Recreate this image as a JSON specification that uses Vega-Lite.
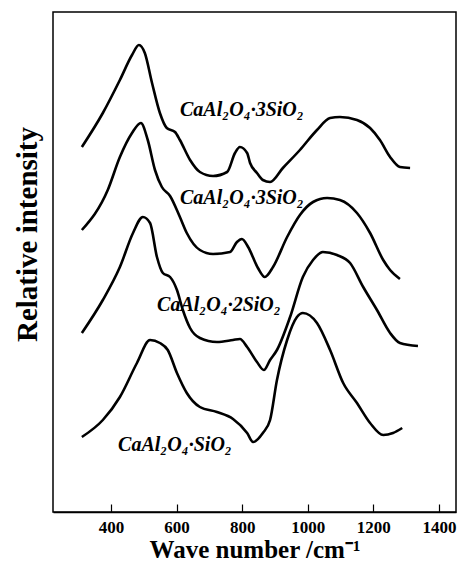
{
  "$schema": "https://vega.github.io/schema/vega-lite/v6.json",
  "width": 403,
  "height": 500,
  "autosize": {"type": "none"},
  "padding": {"left": 53, "top": 12, "right": 2, "bottom": 53},
  "background": "white",
  "config": {
    "view": {"stroke": "black", "strokeWidth": 1.5},
    "axis": {"grid": false}
  },
  "datasets": {
    "curves": [
      {"sample": "a", "wavenumber": 311, "intensity": 365},
      {"sample": "a", "wavenumber": 375, "intensity": 399},
      {"sample": "a", "wavenumber": 427, "intensity": 432},
      {"sample": "a", "wavenumber": 464, "intensity": 457},
      {"sample": "a", "wavenumber": 485, "intensity": 467},
      {"sample": "a", "wavenumber": 503, "intensity": 459},
      {"sample": "a", "wavenumber": 525, "intensity": 429},
      {"sample": "a", "wavenumber": 549, "intensity": 399},
      {"sample": "a", "wavenumber": 570, "intensity": 384},
      {"sample": "a", "wavenumber": 595, "intensity": 380},
      {"sample": "a", "wavenumber": 610, "intensity": 372},
      {"sample": "a", "wavenumber": 641, "intensity": 352},
      {"sample": "a", "wavenumber": 671, "intensity": 340},
      {"sample": "a", "wavenumber": 711, "intensity": 336},
      {"sample": "a", "wavenumber": 754, "intensity": 340},
      {"sample": "a", "wavenumber": 778, "intensity": 359},
      {"sample": "a", "wavenumber": 793, "intensity": 365},
      {"sample": "a", "wavenumber": 815, "intensity": 359},
      {"sample": "a", "wavenumber": 824, "intensity": 349},
      {"sample": "a", "wavenumber": 845, "intensity": 339},
      {"sample": "a", "wavenumber": 863, "intensity": 332},
      {"sample": "a", "wavenumber": 885, "intensity": 330},
      {"sample": "a", "wavenumber": 924, "intensity": 344},
      {"sample": "a", "wavenumber": 976, "intensity": 362},
      {"sample": "a", "wavenumber": 1028, "intensity": 382},
      {"sample": "a", "wavenumber": 1068, "intensity": 394},
      {"sample": "a", "wavenumber": 1098, "intensity": 395},
      {"sample": "a", "wavenumber": 1150, "intensity": 392},
      {"sample": "a", "wavenumber": 1190, "intensity": 384},
      {"sample": "a", "wavenumber": 1220, "intensity": 372},
      {"sample": "a", "wavenumber": 1251, "intensity": 355},
      {"sample": "a", "wavenumber": 1281, "intensity": 345},
      {"sample": "a", "wavenumber": 1312, "intensity": 344},

      {"sample": "b", "wavenumber": 311, "intensity": 282},
      {"sample": "b", "wavenumber": 390, "intensity": 322},
      {"sample": "b", "wavenumber": 427, "intensity": 355},
      {"sample": "b", "wavenumber": 464, "intensity": 379},
      {"sample": "b", "wavenumber": 491, "intensity": 389},
      {"sample": "b", "wavenumber": 512, "intensity": 372},
      {"sample": "b", "wavenumber": 534, "intensity": 342},
      {"sample": "b", "wavenumber": 555, "intensity": 325},
      {"sample": "b", "wavenumber": 580, "intensity": 316},
      {"sample": "b", "wavenumber": 610, "intensity": 295},
      {"sample": "b", "wavenumber": 631, "intensity": 279},
      {"sample": "b", "wavenumber": 671, "intensity": 262},
      {"sample": "b", "wavenumber": 711, "intensity": 258},
      {"sample": "b", "wavenumber": 763, "intensity": 260},
      {"sample": "b", "wavenumber": 784, "intensity": 270},
      {"sample": "b", "wavenumber": 799, "intensity": 273},
      {"sample": "b", "wavenumber": 818, "intensity": 265},
      {"sample": "b", "wavenumber": 848, "intensity": 244},
      {"sample": "b", "wavenumber": 869, "intensity": 235},
      {"sample": "b", "wavenumber": 894, "intensity": 245},
      {"sample": "b", "wavenumber": 937, "intensity": 275},
      {"sample": "b", "wavenumber": 976, "intensity": 297},
      {"sample": "b", "wavenumber": 1016, "intensity": 310},
      {"sample": "b", "wavenumber": 1059, "intensity": 314},
      {"sample": "b", "wavenumber": 1098, "intensity": 312},
      {"sample": "b", "wavenumber": 1150, "intensity": 299},
      {"sample": "b", "wavenumber": 1190, "intensity": 279},
      {"sample": "b", "wavenumber": 1230, "intensity": 252},
      {"sample": "b", "wavenumber": 1251, "intensity": 242},
      {"sample": "b", "wavenumber": 1281, "intensity": 233},

      {"sample": "c", "wavenumber": 311, "intensity": 179},
      {"sample": "c", "wavenumber": 375, "intensity": 212},
      {"sample": "c", "wavenumber": 427, "intensity": 245},
      {"sample": "c", "wavenumber": 467, "intensity": 279},
      {"sample": "c", "wavenumber": 497, "intensity": 295},
      {"sample": "c", "wavenumber": 519, "intensity": 289},
      {"sample": "c", "wavenumber": 540, "intensity": 255},
      {"sample": "c", "wavenumber": 558, "intensity": 239},
      {"sample": "c", "wavenumber": 580, "intensity": 235},
      {"sample": "c", "wavenumber": 601, "intensity": 222},
      {"sample": "c", "wavenumber": 619, "intensity": 202},
      {"sample": "c", "wavenumber": 641, "intensity": 184},
      {"sample": "c", "wavenumber": 671, "intensity": 174},
      {"sample": "c", "wavenumber": 723, "intensity": 170},
      {"sample": "c", "wavenumber": 772, "intensity": 172},
      {"sample": "c", "wavenumber": 793, "intensity": 173},
      {"sample": "c", "wavenumber": 815, "intensity": 165},
      {"sample": "c", "wavenumber": 845, "intensity": 150},
      {"sample": "c", "wavenumber": 866, "intensity": 142},
      {"sample": "c", "wavenumber": 885, "intensity": 152},
      {"sample": "c", "wavenumber": 906, "intensity": 162},
      {"sample": "c", "wavenumber": 946, "intensity": 195},
      {"sample": "c", "wavenumber": 985, "intensity": 235},
      {"sample": "c", "wavenumber": 1016, "intensity": 252},
      {"sample": "c", "wavenumber": 1046, "intensity": 260},
      {"sample": "c", "wavenumber": 1089, "intensity": 257},
      {"sample": "c", "wavenumber": 1129, "intensity": 249},
      {"sample": "c", "wavenumber": 1169, "intensity": 225},
      {"sample": "c", "wavenumber": 1211, "intensity": 202},
      {"sample": "c", "wavenumber": 1251, "intensity": 179},
      {"sample": "c", "wavenumber": 1281, "intensity": 169},
      {"sample": "c", "wavenumber": 1336, "intensity": 166},

      {"sample": "d", "wavenumber": 311, "intensity": 75},
      {"sample": "d", "wavenumber": 375, "intensity": 92},
      {"sample": "d", "wavenumber": 427, "intensity": 115},
      {"sample": "d", "wavenumber": 479, "intensity": 149},
      {"sample": "d", "wavenumber": 519, "intensity": 172},
      {"sample": "d", "wavenumber": 549, "intensity": 169},
      {"sample": "d", "wavenumber": 573, "intensity": 162},
      {"sample": "d", "wavenumber": 601, "intensity": 139},
      {"sample": "d", "wavenumber": 631, "intensity": 119},
      {"sample": "d", "wavenumber": 671, "intensity": 105},
      {"sample": "d", "wavenumber": 723, "intensity": 100},
      {"sample": "d", "wavenumber": 772, "intensity": 93},
      {"sample": "d", "wavenumber": 815, "intensity": 79},
      {"sample": "d", "wavenumber": 833, "intensity": 70},
      {"sample": "d", "wavenumber": 863, "intensity": 79},
      {"sample": "d", "wavenumber": 885, "intensity": 92},
      {"sample": "d", "wavenumber": 906, "intensity": 132},
      {"sample": "d", "wavenumber": 937, "intensity": 172},
      {"sample": "d", "wavenumber": 967, "intensity": 195},
      {"sample": "d", "wavenumber": 985, "intensity": 199},
      {"sample": "d", "wavenumber": 1028, "intensity": 189},
      {"sample": "d", "wavenumber": 1068, "intensity": 162},
      {"sample": "d", "wavenumber": 1108, "intensity": 129},
      {"sample": "d", "wavenumber": 1150, "intensity": 109},
      {"sample": "d", "wavenumber": 1190, "intensity": 89},
      {"sample": "d", "wavenumber": 1230, "intensity": 77},
      {"sample": "d", "wavenumber": 1260, "intensity": 79},
      {"sample": "d", "wavenumber": 1288, "intensity": 84}
    ],
    "labels": [
      {"label": "CaAl₂O₄·3SiO₂", "wavenumber": 799, "intensity": 402},
      {"label": "CaAl₂O₄·3SiO₂", "wavenumber": 799, "intensity": 314},
      {"label": "CaAl₂O₄·2SiO₂", "wavenumber": 729, "intensity": 207},
      {"label": "CaAl₂O₄·SiO₂", "wavenumber": 595, "intensity": 67}
    ]
  },
  "layer": [
    {
      "data": {"name": "curves"},
      "mark": {"type": "line", "interpolate": "monotone", "stroke": "black", "strokeWidth": 2.6, "clip": true},
      "encoding": {
        "x": {
          "field": "wavenumber", "type": "quantitative",
          "scale": {"domain": [223, 1452], "nice": false, "zero": false},
          "axis": {
            "values": [400, 600, 800, 1000, 1200, 1400],
            "format": "d",
            "tickSize": -8, "tickColor": "black", "tickWidth": 1.2,
            "domain": true, "domainColor": "black", "domainWidth": 1.5,
            "labelFont": "Liberation Serif", "labelFontWeight": "bold", "labelFontSize": 17,
            "labelColor": "black", "labelPadding": 15,
            "title": "Wave number /cm⁻¹",
            "titleFont": "Liberation Serif", "titleFontWeight": "bold", "titleFontSize": 25,
            "titleColor": "black", "titlePadding": 2
          }
        },
        "y": {
          "field": "intensity", "type": "quantitative",
          "scale": {"domain": [0, 500], "nice": false, "zero": false},
          "axis": {
            "ticks": false, "labels": false, "domain": false,
            "title": "Relative intensity",
            "titleFont": "Liberation Serif", "titleFontWeight": "bold", "titleFontSize": 29,
            "titleColor": "black", "titleAngle": -90, "titleAlign": "center", "titleBaseline": "middle",
            "titleX": -26, "titleY": 222
          }
        },
        "detail": {"field": "sample", "type": "nominal"}
      }
    },
    {
      "data": {"name": "labels"},
      "mark": {"type": "text", "font": "Liberation Serif", "fontStyle": "italic", "fontWeight": "bold", "fontSize": 20, "color": "black", "align": "center", "baseline": "middle"},
      "encoding": {
        "x": {"field": "wavenumber", "type": "quantitative"},
        "y": {"field": "intensity", "type": "quantitative"},
        "text": {"field": "label"}
      }
    }
  ]
}
